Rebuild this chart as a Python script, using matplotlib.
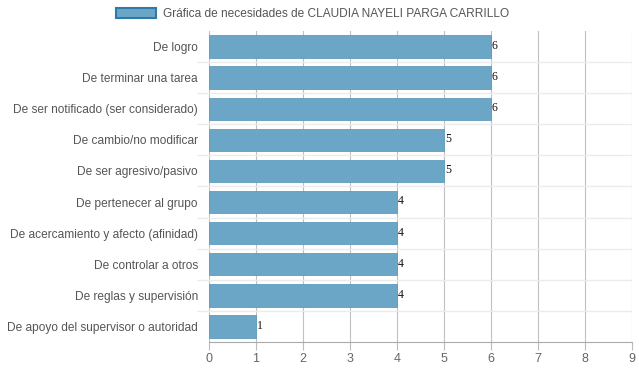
import matplotlib
matplotlib.use("Agg")
import matplotlib.pyplot as plt
import numpy as np
from matplotlib.patches import Patch

categories = ["De logro", "De terminar una tarea", "De ser notificado (ser considerado)",
              "De cambio/no modificar", "De ser agresivo/pasivo", "De pertenecer al grupo",
              "De acercamiento y afecto (afinidad)", "De controlar a otros",
              "De reglas y supervisión", "De apoyo del supervisor o autoridad"]
values = [6, 6, 6, 5, 5, 4, 4, 4, 4, 1]
xticks = list(range(0, 10))
legend_label = "Gráfica de necesidades de CLAUDIA NAYELI PARGA CARRILLO"

plt.rcParams['font.family'] = ['Liberation Sans', 'DejaVu Sans']
fig = plt.figure(figsize=6.39 * np.array([1, 372/639]), dpi=100)
ax = fig.add_axes([209/639, 1 - 342/372, (632 - 209)/639, (342 - 31)/372])

n = len(categories)
y = np.arange(n)
ax.barh(y, values, height=0.72, color="#6ca6c6", edgecolor="#5f9cbf", linewidth=0.6, zorder=3)
for yi, v in zip(y, values):
    ax.text(v + 0.02, yi - 0.02, str(v), family="Liberation Serif", fontsize=8.5,
            color="#111111", va="center", ha="left", zorder=4)

ax.set_ylim(n - 0.5, -0.5)
ax.set_xlim(0, 9)
ax.set_yticks(y)
ax.set_yticklabels(categories)
ax.set_yticks(np.arange(-0.5, n, 1.0)[1:-1], minor=True)
ax.set_xticks(xticks)
ax.tick_params(axis='y', which='major', length=0, pad=8, labelsize=8.6, labelcolor="#555555")
ax.tick_params(axis='y', which='minor', length=9, color="#ebebeb", width=1)
ax.tick_params(axis='x', length=6, color="#bbbbbb", labelsize=9, labelcolor="#666666", pad=2)
ax.grid(axis='y', which='minor', color="#ebebeb", linewidth=1, zorder=0)
ax.grid(axis='x', which='major', color="#c0c0c0", linewidth=0.8, zorder=1)
for s in ['top', 'right', 'left']:
    ax.spines[s].set_visible(False)
ax.spines['bottom'].set_color("#aaaaaa")

handle = Patch(facecolor="#6ca6c6", edgecolor="#2f7aa8", linewidth=1.5)
fig.legend([handle], [legend_label], loc='center', bbox_to_anchor=(0.5 - 7/639, 1 - 14/372),
           frameon=False, fontsize=8.6, handlelength=3.4, handleheight=0.9,
           labelcolor="#555555", handletextpad=0.6)

fig.savefig("out.png", dpi=100)
